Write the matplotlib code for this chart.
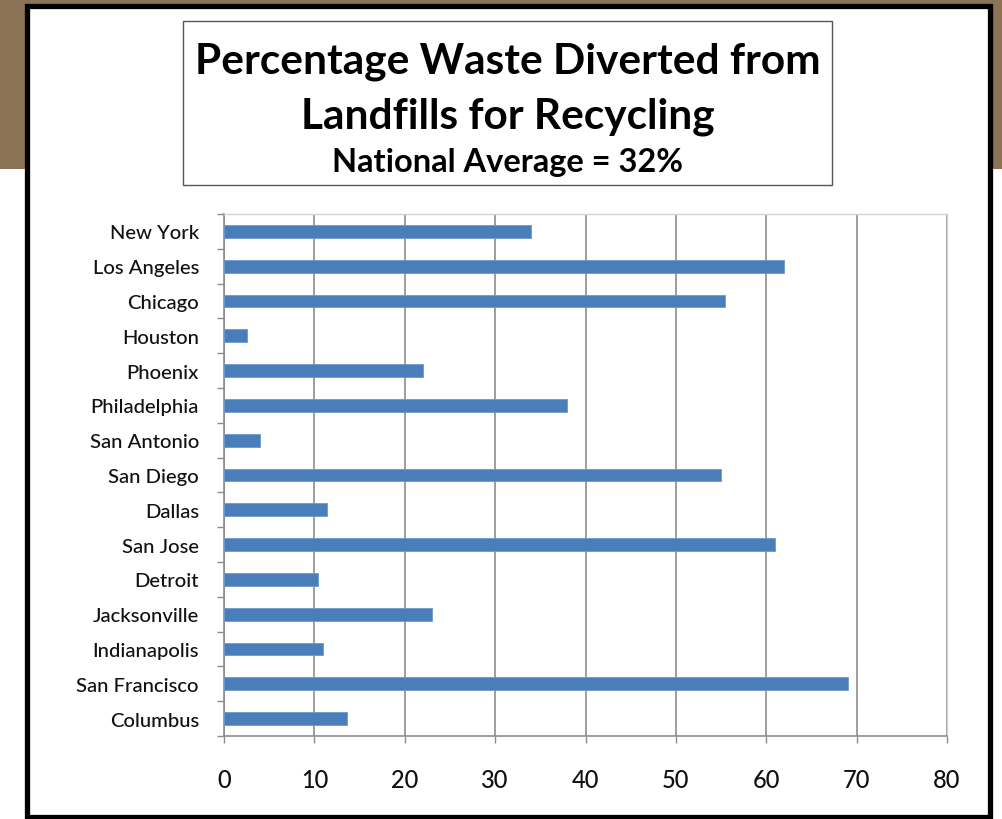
import matplotlib
matplotlib.use("Agg")
import matplotlib.pyplot as plt
from matplotlib.patches import Rectangle
from matplotlib.ticker import FixedLocator
import numpy as np

plt.rcParams['font.family'] = ['Lato', 'DejaVu Sans']

cities = ["New York", "Los Angeles", "Chicago", "Houston", "Phoenix",
          "Philadelphia", "San Antonio", "San Diego", "Dallas", "San Jose",
          "Detroit", "Jacksonville", "Indianapolis", "San Francisco", "Columbus"]
percent = [34, 62, 55.4, 2.5, 22, 38, 4, 55, 11.4, 61, 10.4, 23, 11, 69, 13.6]
xticks = [0, 10, 20, 30, 40, 50, 60, 70, 80]
title_lines = ["Percentage Waste Diverted from", "Landfills for Recycling"]
subtitle = "National Average = 32%"

W, H = 1003, 820
fig = plt.figure(figsize=(W / 100, H / 100), dpi=100)
fig.patch.set_facecolor("white")

def px(x0, y0, x1, y1):
    # pixel box (top-left origin) -> figure fraction rectangle args
    return (x0 / W, 1 - y1 / H), (x1 - x0) / W, (y1 - y0) / H

brown = "#8B7355"
for box in [(0, 0, 1003, 6), (0, 0, 27, 170), (990, 0, 1003, 170)]:
    xy, w, h = px(*box)
    fig.patches.append(Rectangle(xy, w, h, transform=fig.transFigure,
                                 facecolor=brown, edgecolor="none", zorder=0))
xy, w, h = px(27, 7, 990, 818)
fig.patches.append(Rectangle(xy, w, h, transform=fig.transFigure,
                             facecolor="white", edgecolor="black", lw=3.8, zorder=1))

# title box
xy, w, h = px(183, 22, 832, 186)
fig.patches.append(Rectangle(xy, w, h, transform=fig.transFigure,
                             facecolor="white", edgecolor="#555555", lw=1.0, zorder=2))
fig.text(508 / W, 1 - 62 / H, title_lines[0], ha="center", va="center",
         fontsize=30.5, fontweight="bold", color="black", zorder=3)
fig.text(508 / W, 1 - 117 / H, title_lines[1], ha="center", va="center",
         fontsize=30.5, fontweight="bold", color="black", zorder=3)
fig.text(508 / W, 1 - 163 / H, subtitle, ha="center", va="center",
         fontsize=23.5, fontweight="bold", color="black", zorder=3)

ax = fig.add_axes([224 / W, 1 - 737 / H, (947 - 224) / W, (737 - 215) / H])
ax.set_zorder(3)
y = np.arange(len(cities))
ax.barh(y, percent, height=0.37, color="#4A7EBB", edgecolor="#6E98CC",
        linewidth=0.6, zorder=3)
ax.set_xlim(0, 80)
ax.set_ylim(len(cities) - 0.5, -0.5)
ax.set_xticks(xticks)
ax.set_xticklabels([str(t) for t in xticks])
ax.set_yticks(y)
ax.set_yticklabels(cities)
ax.yaxis.set_minor_locator(FixedLocator(np.arange(-0.5, len(cities), 1.0)))
ax.grid(axis="x", color="#8C8C8C", linewidth=1.2, zorder=1)
ax.set_axisbelow(True)

for s in ["left", "bottom"]:
    ax.spines[s].set_color("#8C8C8C")
    ax.spines[s].set_linewidth(1.2)
for s in ["top", "right"]:
    ax.spines[s].set_color("#D4D4D4")
    ax.spines[s].set_linewidth(1.0)

ax.tick_params(axis="y", which="major", length=0, pad=18, labelsize=14.6,
               labelcolor="#111111")
ax.tick_params(axis="y", which="minor", length=5, width=1.0, color="#8C8C8C")
ax.tick_params(axis="x", which="major", length=5, width=1.0, color="#8C8C8C",
               pad=18, labelsize=17, labelcolor="#111111")
for lab in ax.get_yticklabels() + ax.get_xticklabels():
    lab.set_fontweight("medium")

fig.savefig("out.png", dpi=100, facecolor=fig.get_facecolor())
